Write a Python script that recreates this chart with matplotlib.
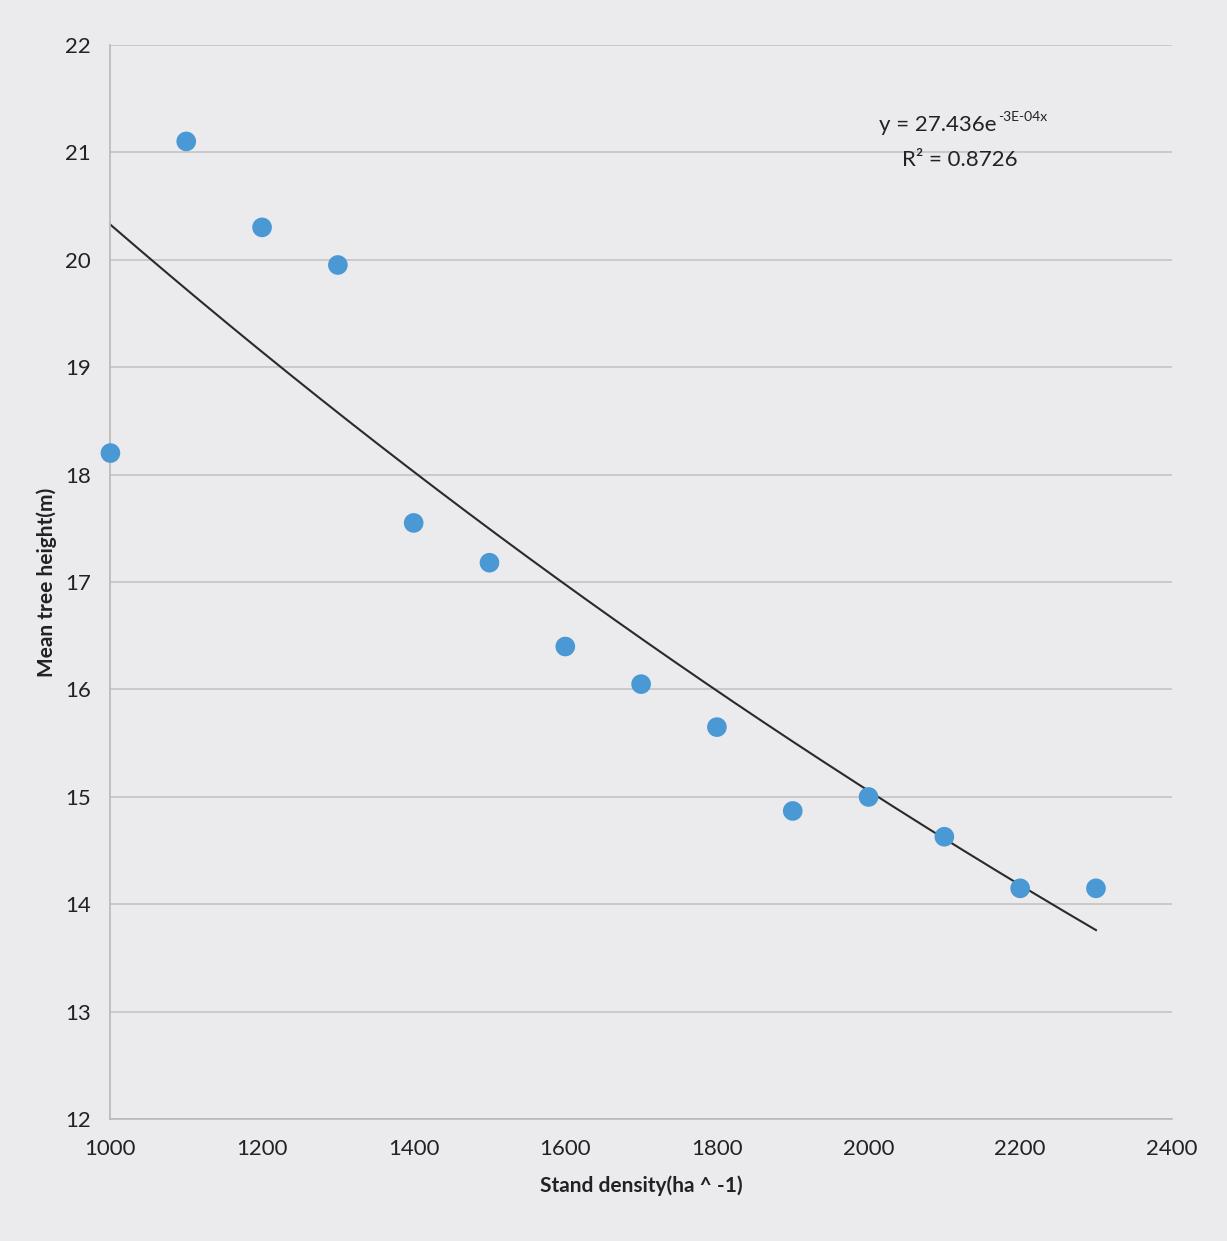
import numpy as np
import matplotlib
matplotlib.use("Agg")
import matplotlib.pyplot as plt

plt.rcParams['font.family'] = ['Lato', 'DejaVu Sans']

# Data
density = [1000, 1100, 1200, 1300, 1400, 1500, 1600, 1700, 1800, 1900, 2000, 2100, 2200, 2300]
height = [18.2, 21.1, 20.3, 19.95, 17.55, 17.18, 16.4, 16.05, 15.65, 14.87, 15.0, 14.63, 14.15, 14.15]

fit_a = 27.436
fit_b = -3e-4
r2 = 0.8726

x_ticks = [1000, 1200, 1400, 1600, 1800, 2000, 2200, 2400]
y_ticks = [12, 13, 14, 15, 16, 17, 18, 19, 20, 21, 22]

bg = '#ebebed'
fig = plt.figure(figsize=(12.27, 12.41), dpi=100, facecolor=bg)
ax = fig.add_axes([0.09, 0.098, 0.865, 0.866], facecolor=bg)

ax.set_xlim(1000, 2400)
ax.set_ylim(12, 22)
ax.set_xticks(x_ticks)
ax.set_yticks(y_ticks)
ax.grid(axis='y', color='#c4c4c4', linewidth=1.2)
ax.set_axisbelow(True)
for s in ['top', 'right']:
    ax.spines[s].set_visible(False)
for s in ['left', 'bottom']:
    ax.spines[s].set_color('#b8b8b8')
    ax.spines[s].set_linewidth(1.2)
ax.tick_params(length=0, labelsize=16, colors='#222222', pad=14)

xs = np.linspace(min(density), max(density), 200)
ax.plot(xs, fit_a * np.exp(fit_b * xs), color='#2a2a2a', linewidth=1.5, zorder=2)
ax.scatter(density, height, s=200, color='#4a98d4', zorder=3, clip_on=False, edgecolors='none')

# Trendline equation with superscript exponent
ax.text(0.835, 0.925, 'y = %.3fe' % fit_a, transform=ax.transAxes,
        ha='right', va='center', fontsize=16, color='#222222')
ax.annotate('-3E-04x', xy=(0.835, 0.925), xycoords='axes fraction',
            xytext=(1, 6), textcoords='offset points',
            ha='left', va='center', fontsize=10, color='#222222')
ax.text(0.80, 0.893, 'R² = %.4f' % r2, transform=ax.transAxes,
        ha='center', va='center', fontsize=16, color='#222222')

ax.set_xlabel('Stand density(ha ^ -1)', fontsize=15, fontweight='bold', color='#222222', labelpad=12)
ax.set_ylabel('Mean tree height(m)', fontsize=15, fontweight='bold', color='#222222', labelpad=6)

fig.savefig('out.png', dpi=100, facecolor=bg)
